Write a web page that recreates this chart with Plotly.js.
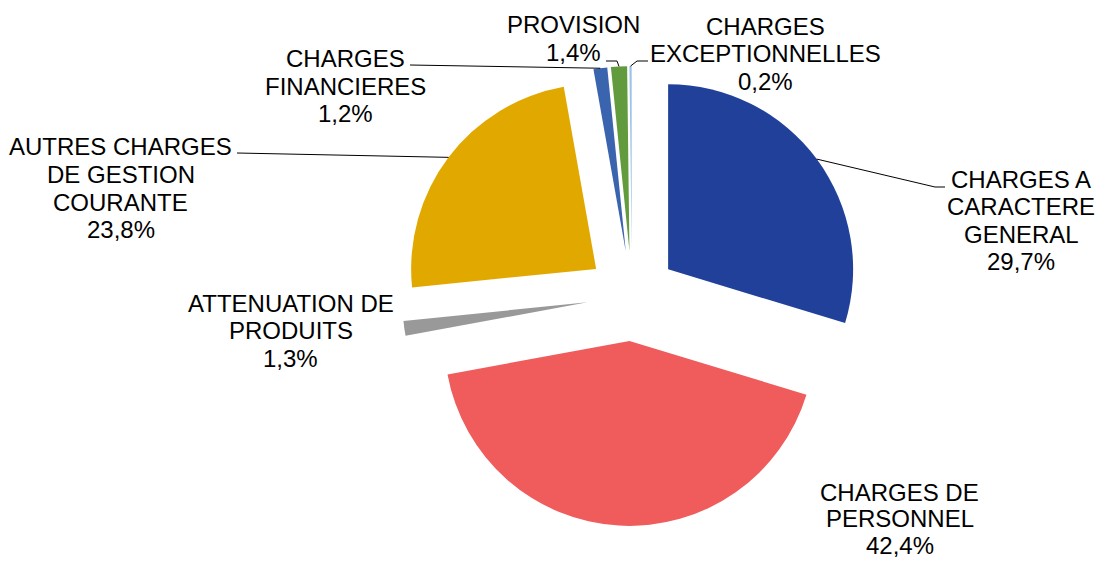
<!DOCTYPE html>
<html><head><meta charset="utf-8">
<script src="https://cdn.plot.ly/plotly-3.0.1.min.js"></script>
<style>html,body{margin:0;padding:0;background:#fff}#chart{width:1096px;height:561px}</style>
</head><body><div id="chart"></div>
<script>
// ---- data ----
const categories = ["CHARGES A CARACTERE GENERAL","CHARGES DE PERSONNEL","ATTENUATION DE PRODUITS","AUTRES CHARGES DE GESTION COURANTE","CHARGES FINANCIERES","PROVISION","CHARGES EXCEPTIONNELLES"];
const labelLines = [["CHARGES A","CARACTERE","GENERAL"],["CHARGES DE","PERSONNEL"],["ATTENUATION DE","PRODUITS"],["AUTRES CHARGES","DE GESTION","COURANTE"],["CHARGES","FINANCIERES"],["PROVISION"],["CHARGES","EXCEPTIONNELLES"]];
const percentages = [29.7, 42.4, 1.3, 23.8, 1.2, 1.4, 0.2];

// ---- styles / layout geometry ----
const colors = ["#21409A","#F05B5C","#999999","#E1A900","#3A64AE","#629B3D","#9DC3E6"];
const W = 1096, H = 561;
const CX = 632, CY = 296, R = 185, PULL = 0.243;
const FONT = {family: "'Liberation Sans', Arial, sans-serif", size: 24, color: "#000"};
// first-line centre of every label (pixels) and its line spacing
const labelPos = [[1021,179],[899.5,492],[290.5,303],[120.5,147],[345,58.5],[573,25],[765,26]];
const labelLS = [27.5, 26.5, 27.5, 27.5, 27.5, 27.5, 27.5];
// leader line bends after the slice anchor (pixels), null = no leader
const leaderPts = [[[935,187],[945,187]], null, null, [[237,153]], [[410,65]], [[617,61],[606,61]], [[637,61],[648,61]]];

const size = 2 * R * (1 + PULL);
const domain = {
  x: [(CX - size/2)/W, (CX + size/2)/W],
  y: [1 - (CY + size/2)/H, 1 - (CY - size/2)/H]
};

const px = x => x / W, py = y => 1 - y / H;
const total = percentages.reduce((a,b)=>a+b,0);

const annotations = [];
const shapes = [];
let cum = 0;
percentages.forEach((v, i) => {
  const mid = (cum + v/2) / total; cum += v;
  const th = 2 * Math.PI * mid;
  const ax = CX + R*(1+PULL)*Math.sin(th);
  const ay = CY - R*(1+PULL)*Math.cos(th);
  const lines = labelLines[i].concat([v.toFixed(1).replace('.', ',') + '%']);
  lines.forEach((t, j) => {
    annotations.push({
      x: px(labelPos[i][0]), y: py(labelPos[i][1] + j*labelLS[i]), xref: 'paper', yref: 'paper',
      text: t, showarrow: false, xanchor: 'center', yanchor: 'middle', font: FONT
    });
  });
  if (leaderPts[i]) {
    let d = 'M ' + px(ax) + ',' + py(ay);
    leaderPts[i].forEach(p => { d += ' L ' + px(p[0]) + ',' + py(p[1]); });
    shapes.push({type: 'path', xref: 'paper', yref: 'paper', path: d,
      line: {color: '#000', width: 1}});
  }
});

const trace = {
  type: 'pie', values: percentages, labels: categories,
  sort: false, direction: 'clockwise', rotation: 0,
  pull: percentages.map(() => PULL),
  textinfo: 'none', hoverinfo: 'label+percent',
  marker: {colors: colors, line: {width: 0}},
  domain: domain
};

Plotly.newPlot('chart', [trace], {
  width: W, height: H, margin: {l:0, r:0, t:0, b:0},
  showlegend: false, paper_bgcolor: '#fff', plot_bgcolor: '#fff',
  annotations: annotations, shapes: shapes
}, {displayModeBar: false, staticPlot: true});
</script>
</body></html>
